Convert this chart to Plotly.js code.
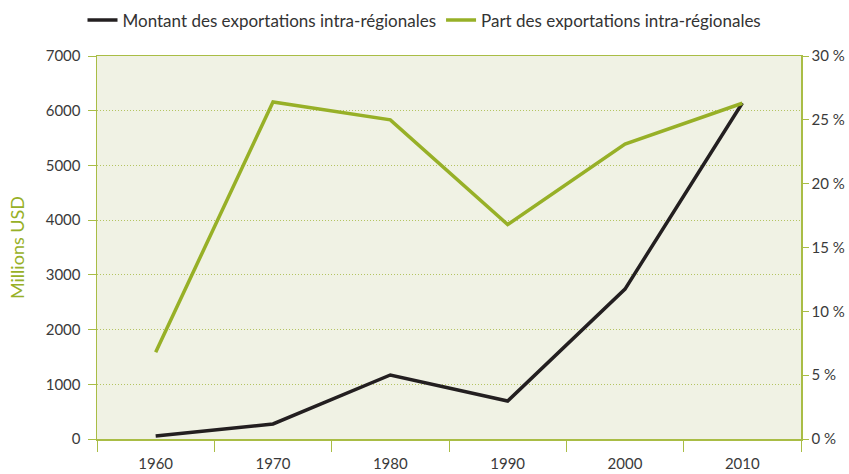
<!DOCTYPE html>
<html>
<head>
<meta charset="utf-8">
<script src="https://cdn.plot.ly/plotly-3.0.1.min.js"></script>
<style>html,body{margin:0;padding:0;background:#fff;}#chart{width:849px;height:474px;}</style>
</head>
<body>
<div id="chart"></div>
<script>
var years = ["1960", "1970", "1980", "1990", "2000", "2010"];
var montantMillionsUSD = [55, 275, 1170, 695, 2740, 6140];
var partPourcent = [6.8, 26.4, 25.0, 16.8, 23.1, 26.3];
var leftTicks = [0, 1000, 2000, 3000, 4000, 5000, 6000, 7000];
var rightTicks = [0, 5, 10, 15, 20, 25, 30];
var rightTickLabels = ["0 %", "5 %", "10 %", "15 %", "20 %", "25 %", "30 %"];

var green = "#97b027";
var axisGreen = "#a9bd45";
var font = "Lato, 'Open Sans', sans-serif";

var traces = [
  {x: years, y: montantMillionsUSD, type: "scatter", mode: "lines", name: "Montant des exportations intra-régionales",
   line: {color: "#231f20", width: 3.5}, yaxis: "y"},
  {x: years, y: partPourcent, type: "scatter", mode: "lines", name: "Part des exportations intra-régionales",
   line: {color: green, width: 3.5}, yaxis: "y2"}
];

var layout = {
  width: 849, height: 474,
  margin: {l: 97, r: 48, t: 56, b: 35},
  paper_bgcolor: "#ffffff",
  plot_bgcolor: "#f0f2e4",
  font: {family: font, color: "#3a3a3a", size: 15},
  showlegend: true,
  legend: {orientation: "h", x: 0.5, xanchor: "center", xref: "container", y: 0.957, yanchor: "middle", yref: "container",
           font: {size: 17, color: "#333333", family: font}, bgcolor: "rgba(0,0,0,0)",
           itemwidth: 30, tracegroupgap: 0},
  xaxis: {type: "category", tickson: "boundaries", ticks: "outside", ticklen: 11, tickcolor: axisGreen,
          showline: true, linecolor: axisGreen, linewidth: 1.5, mirror: true, showgrid: false,
          ticklabelstandoff: 10,
          tickfont: {size: 15, color: "#3a3a3a"}, range: [-0.5, 5.5], fixedrange: true},
  yaxis: {range: [0, 7000], tickvals: leftTicks, ticks: "outside", ticklen: 8, tickcolor: axisGreen,
          showline: true, linecolor: axisGreen, linewidth: 1.5, zeroline: false,
          showgrid: true, gridcolor: "#b4c461", griddash: "1px,2px", gridwidth: 1,
          ticklabelstandoff: 4,
          tickfont: {size: 15, color: "#3a3a3a"},
          title: {text: "Millions USD", font: {size: 18, color: green, family: font}, standoff: 16}},
  yaxis2: {range: [0, 30], tickvals: rightTicks, ticktext: rightTickLabels, overlaying: "y", side: "right",
           ticks: "outside", ticklen: 6, tickcolor: axisGreen, showline: true, linecolor: axisGreen, linewidth: 1.5,
           showgrid: false, zeroline: false, tickfont: {size: 15, color: "#3a3a3a"}}
};

Plotly.newPlot("chart", traces, layout, {displayModeBar: false, staticPlot: true});
</script>
</body>
</html>
